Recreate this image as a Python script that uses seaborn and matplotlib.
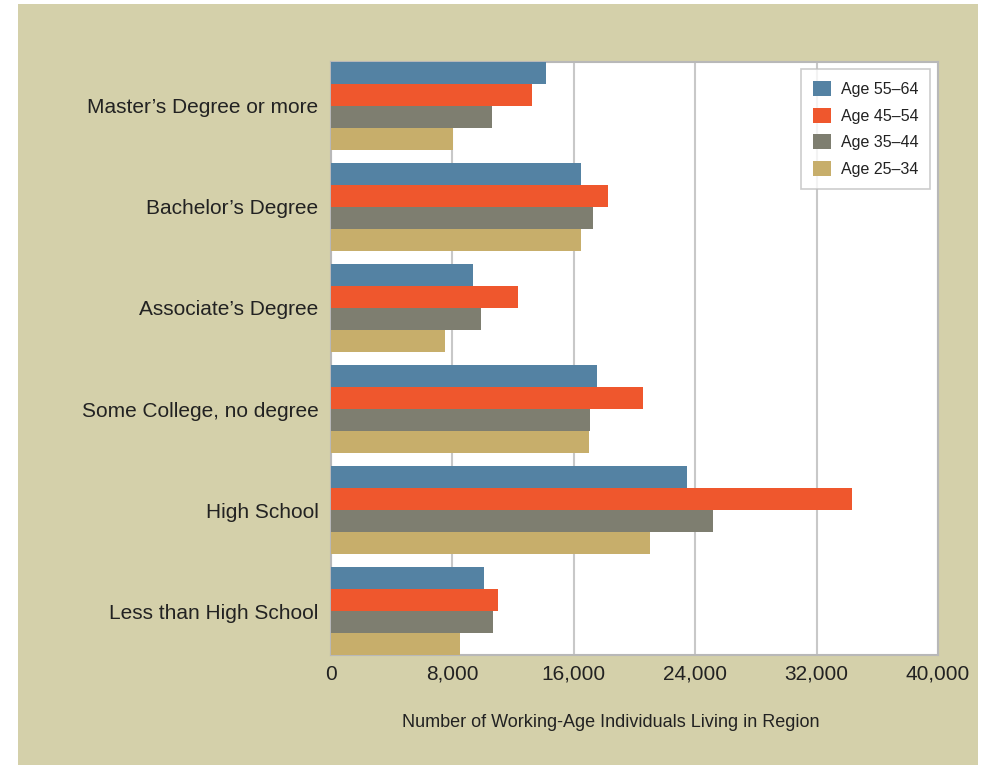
"""Working-age population by education level and age group."""
import matplotlib
matplotlib.use("Agg")
import matplotlib.pyplot as plt
from matplotlib.patches import Rectangle
from matplotlib.ticker import FuncFormatter
import pandas as pd
import seaborn as sns

EDUCATION = ["Master\u2019s Degree or more", "Bachelor\u2019s Degree", "Associate\u2019s Degree",
             "Some College, no degree", "High School", "Less than High School"]
AGE_GROUPS = ["Age 55\u201364", "Age 45\u201354", "Age 35\u201344", "Age 25\u201334"]
AGE_55_64 = [14200, 16500, 9350, 17500, 23430, 10080]
AGE_45_54 = [13250, 18250, 12300, 20550, 34350, 11000]
AGE_35_44 = [10600, 17250, 9880, 17050, 25200, 10680]
AGE_25_34 = [8050, 16450, 7500, 17000, 21000, 8490]
X_TICKS = [0, 8000, 16000, 24000, 32000, 40000]

COLORS = ["#5482a3", "#ef572d", "#7e7e70", "#c7ae6b"]
PANEL = "#d4d0aa"
TEXT = "#222222"

series = [AGE_55_64, AGE_45_54, AGE_35_44, AGE_25_34]
df = pd.DataFrame(
    [(edu, age, v) for age, vals in zip(AGE_GROUPS, series) for edu, v in zip(EDUCATION, vals)],
    columns=["education", "age", "count"],
)

sns.set_style("white")
plt.rcParams["font.family"] = ["Liberation Sans", "DejaVu Sans"]

fig = plt.figure(figsize=(9.87, 7.65), dpi=100, facecolor="white")
# tan panel behind everything
fig.patches.append(Rectangle((18 / 987, 0), 960 / 987, 761 / 765, transform=fig.transFigure,
                             facecolor=PANEL, edgecolor="none", zorder=-10))
ax = fig.add_axes([331 / 987, 1 - 655 / 765, 607 / 987, 593 / 765])
ax.set_zorder(1)
ax.set_facecolor("white")

sns.barplot(data=df, y="education", x="count", hue="age", order=EDUCATION,
            hue_order=AGE_GROUPS, palette=COLORS, orient="h", width=0.87,
            saturation=1, linewidth=0, ax=ax, zorder=3)

ax.set_xlim(0, 40000)
ax.set_ylim(5.435, -0.435)
ax.set_xticks(X_TICKS)
ax.xaxis.set_major_formatter(FuncFormatter(lambda v, _: f"{int(v):,}"))
ax.grid(axis="x", color="#c8c8c8", lw=1.5, zorder=0)
ax.set_axisbelow(True)
ax.tick_params(axis="both", length=0, labelsize=15, colors=TEXT)
ax.tick_params(axis="y", pad=9)
ax.tick_params(axis="x", pad=7)
for spine in ax.spines.values():
    spine.set_visible(True)
    spine.set_color("#b8b8b8")
    spine.set_linewidth(1.5)

ax.set_ylabel("")
ax.set_xlabel("Number of Working-Age Individuals Living in Region", fontsize=13, color=TEXT)
ax.xaxis.set_label_coords(0.461, -0.113)
ax.xaxis.label.set_va("center")

leg = ax.legend(loc="upper right", bbox_to_anchor=(0.987, 0.988), borderaxespad=0,
                fontsize=11.5, frameon=True, fancybox=False, handlelength=1.1,
                handleheight=1.1, handletextpad=0.6, labelspacing=0.65, borderpad=0.75)
leg.get_frame().set_edgecolor("#c0c0c0")
leg.get_frame().set_linewidth(1.2)
for t in leg.get_texts():
    t.set_color(TEXT)

fig.savefig("out.png", dpi=100, facecolor="white")
plt.close(fig)
